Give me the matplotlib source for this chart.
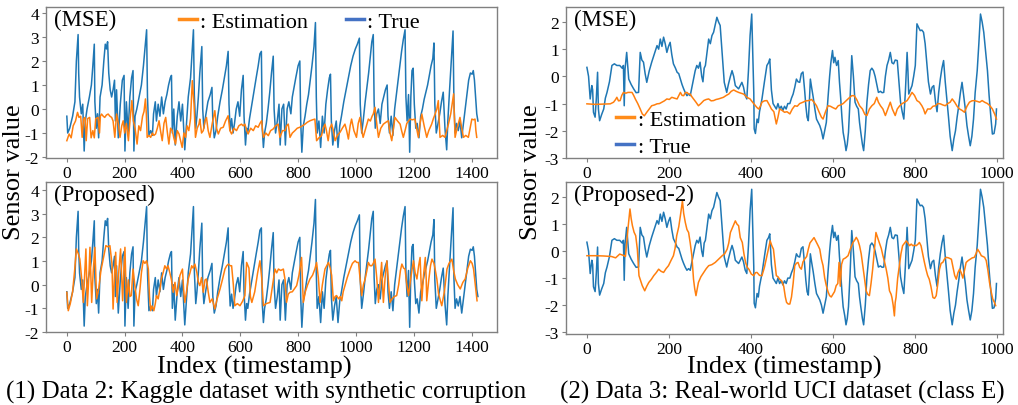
import numpy as np
import matplotlib
matplotlib.use("Agg")
import matplotlib.pyplot as plt
from matplotlib.lines import Line2D

plt.rcParams['font.family'] = ['Liberation Serif', 'DejaVu Serif']
plt.rcParams['axes.unicode_minus'] = False

# (index, value) points
# Data 2 (Kaggle): true signal, shared by both left panels
kaggle_true = [
    (0, -0.3), (3, -1.0), (10, -0.8), (20, -0.3), (28, 0.3), (33, 2.0), (39, 3.1), (41, 1.5), (44, 0.5),
    (50, -0.2), (55, 0.2), (60, -1.75), (64, -0.5), (70, 0.0), (78, 0.5), (85, 1.0), (90, 1.8), (95, 2.7),
    (97, 0.3), (102, -0.8), (106, -0.2), (110, -1.2), (115, 0.5), (122, 1.0), (128, 2.0), (133, 2.7),
    (137, 2.5), (141, 2.8), (145, 1.5), (150, 0.8), (155, 0.5), (160, 0.8), (165, 1.2), (168, -0.5),
    (172, 0.8), (178, -1.2), (185, 0.2), (192, 1.2), (198, 1.4), (201, -1.75), (206, 0.3), (212, -1.0),
    (218, 0.5), (224, 1.3), (229, 1.6), (232, -1.75), (236, -0.3), (242, 0.0), (250, 0.5), (258, 1.0),
    (265, 1.8), (270, 2.5), (276, 3.3), (279, 0.5), (284, -1.1), (290, -0.9), (296, -1.1), (300, -0.2),
    (306, 0.3), (310, -0.5), (316, 0.2), (322, -0.3), (328, 0.5), (334, -0.2), (340, 0.3), (346, 0.6),
    (352, 1.0), (358, 1.3), (362, 1.4), (365, -1.0), (370, 0.0), (375, -1.5), (382, -0.3), (388, 0.3),
    (394, -0.5), (400, 0.2), (408, -1.7), (414, -0.6), (420, 0.5), (428, 1.3), (434, 2.5), (438, 3.3),
    (441, 0.6), (446, -0.8), (450, -0.3), (455, 0.5), (460, 1.5), (467, 2.6), (470, 0.0), (474, -0.8),
    (480, -0.3), (488, 0.3), (496, 0.6), (502, 0.9), (505, -0.5), (510, -1.2), (516, -0.9), (522, -0.3),
    (530, 0.3), (538, 0.8), (545, 1.3), (552, 1.8), (558, 2.4), (561, 0.2), (565, -0.9), (570, -0.4),
    (575, -1.0), (580, -0.6), (586, 0.0), (592, 0.3), (598, -0.3), (604, 0.8), (610, 1.4), (613, -0.3),
    (618, -1.5), (622, -0.8), (626, -1.0), (632, -0.4), (640, 0.2), (648, 0.8), (655, 1.3), (662, 1.8),
    (668, 2.3), (673, 2.4), (676, -0.8), (680, -1.6), (684, -1.0), (690, -0.6), (696, 0.0), (702, 0.7),
    (708, 1.5), (714, 2.2), (717, 0.0), (722, -1.0), (728, -0.5), (734, 0.2), (738, -1.5), (744, 0.0),
    (750, 0.2), (756, -1.5), (762, 0.0), (768, 0.3), (775, -0.2), (780, 0.5), (786, 0.9), (792, 1.3),
    (800, 1.8), (806, 2.0), (809, -0.5), (813, -1.8), (818, -0.7), (824, -0.3), (830, 0.2), (836, 0.6),
    (842, 1.2), (848, 1.8), (855, 2.6), (860, 3.6), (863, 0.5), (866, -1.0), (872, -0.5), (878, -1.6),
    (884, -0.3), (890, -1.0), (896, 0.2), (902, 0.8), (908, 1.3), (912, 1.45), (915, -0.5), (920, -1.5),
    (926, -0.9), (932, -0.5), (938, -1.6), (944, -0.7), (950, -0.3), (958, 0.3), (966, 0.8), (974, 1.3),
    (982, 1.8), (990, 2.2), (998, 2.5), (1005, 2.7), (1012, 2.95), (1015, 0.2), (1020, -1.0), (1026, -0.4),
    (1032, 0.3), (1038, 0.9), (1044, 1.5), (1050, 2.2), (1055, 2.8), (1060, 3.1), (1063, 0.3), (1067, -0.8),
    (1072, -0.2), (1078, 0.0), (1084, -0.6), (1090, 0.2), (1096, 0.5), (1102, 0.8), (1108, 1.0), (1111, -0.3),
    (1116, -1.0), (1122, -0.3), (1128, -1.1), (1134, 0.0), (1140, 0.6), (1146, 1.2), (1152, 1.8), (1158, 2.4),
    (1164, 2.9), (1170, 3.3), (1173, 0.5), (1177, -0.5), (1182, 0.6), (1186, -1.8), (1190, 0.5), (1194, 1.6),
    (1198, 1.7), (1202, 0.2), (1207, -0.8), (1212, -0.6), (1218, -1.2), (1224, -0.3), (1230, 0.0), (1236, 0.4),
    (1242, 0.7), (1248, 1.0), (1254, 1.4), (1260, 1.8), (1266, 2.1), (1270, 2.75), (1273, 0.2), (1278, -1.0),
    (1284, -0.6), (1290, -0.2), (1296, 0.3), (1302, 0.7), (1308, -0.8), (1314, -1.7), (1318, -0.5), (1324, 0.8),
    (1330, 2.0), (1336, 3.25), (1339, 0.3), (1343, -1.0), (1348, -0.6), (1354, -0.9), (1360, -0.5), (1366, -1.2),
    (1372, -0.6), (1378, 0.0), (1384, 0.6), (1390, 1.2), (1396, 1.5), (1402, 1.45), (1406, 1.6), (1410, 1.2),
    (1414, 0.5), (1418, -0.2), (1422, -0.5),
]

# Data 2: estimation trained with MSE
kaggle_mse = [
    (0, -1.32), (8, -1.04), (15, -1.2), (22, -0.7), (30, -0.5), (37, -0.14), (42, -0.35), (48, -0.3),
    (53, -1.18), (58, -0.4), (63, -0.35), (67, -1.32), (72, -0.4), (79, -0.35), (84, -1.2), (90, -0.9),
    (95, -1.2), (100, -0.4), (108, -0.35), (113, -1.0), (116, -0.3), (120, -0.21), (126, -0.3), (131, -0.35),
    (137, -0.25), (143, -0.21), (149, -0.3), (155, -0.35), (160, -0.5), (166, -1.18), (172, -0.21), (178, -0.6),
    (184, -1.18), (190, -0.7), (195, -0.49), (200, -1.0), (206, -0.6), (213, -1.32), (219, -0.4), (225, 0.35),
    (230, -0.49), (236, -0.8), (243, -1.46), (249, -0.7), (255, -0.9), (262, -0.3), (267, -0.1), (272, 0.42),
    (275, -0.2), (278, -1.18), (284, -1.1), (290, -1.18), (296, -1.0), (301, -1.1), (307, -1.04), (313, -0.8),
    (319, -0.49), (324, -0.9), (330, -1.32), (336, -0.6), (342, -0.35), (347, -0.9), (353, -1.46), (359, -0.8),
    (365, -0.9), (370, -1.2), (376, -1.46), (382, -0.9), (388, -1.04), (393, -1.3), (399, -1.6), (405, -1.0),
    (411, -1.18), (416, -0.7), (422, -0.9), (428, -0.4), (434, 1.18), (440, 0.21), (445, -1.18), (451, -0.8),
    (457, -0.63), (460, -0.42), (466, -1.0), (472, -0.9), (478, -0.5), (483, -0.35), (489, -0.9), (495, -1.18),
    (503, -0.6), (512, -0.07), (518, -0.8), (524, -1.04), (532, -0.8), (541, -0.76), (549, -0.5), (558, -0.28),
    (564, -0.9), (570, -1.04), (578, -0.8), (587, -0.9), (595, -0.7), (604, -0.63), (610, -0.7), (616, -0.63),
    (622, -0.9), (627, -1.04), (636, -0.8), (645, -0.9), (653, -0.7), (662, -0.76), (668, -0.6), (674, -0.49),
    (677, -0.9), (680, -1.18), (688, -1.0), (697, -1.11), (705, -0.9), (714, -0.83), (722, -0.7), (731, -0.63),
    (734, -0.9), (737, -1.18), (746, -0.9), (755, -0.9), (760, -0.7), (766, -0.63), (769, -0.9), (772, -1.18),
    (780, -1.0), (789, -0.9), (797, -0.8), (806, -0.76), (815, -0.7), (824, -0.63), (832, -0.55), (841, -0.49),
    (850, -0.45), (858, -0.42), (861, -0.9), (864, -1.32), (872, -1.2), (881, -1.11), (887, -0.8), (893, -0.63),
    (898, -0.9), (904, -1.32), (910, -0.8), (916, -0.63), (922, -0.9), (928, -1.32), (936, -1.1), (945, -0.97),
    (953, -0.8), (962, -0.63), (968, -0.9), (974, -1.25), (980, -0.7), (985, -0.42), (993, -0.9), (1002, -1.18),
    (1008, -0.6), (1014, -0.35), (1020, -0.9), (1025, -1.18), (1034, -0.8), (1043, -0.42), (1050, -0.5),
    (1056, -0.3), (1060, -0.21), (1066, 0.07), (1072, -0.6), (1078, -1.18), (1086, -0.8), (1095, -0.63),
    (1104, -0.55), (1112, -0.49), (1118, -1.0), (1124, -1.32), (1130, -0.8), (1135, -0.35), (1144, -0.5),
    (1153, -0.63), (1158, -0.9), (1164, -1.18), (1170, -0.9), (1176, -0.6), (1187, -0.42), (1195, -0.45),
    (1204, -0.42), (1210, -0.8), (1216, -1.18), (1222, -0.6), (1228, -0.21), (1236, -0.7), (1245, -1.18),
    (1252, -0.9), (1262, -0.63), (1268, -0.4), (1274, -0.21), (1280, 0.0), (1285, 0.35), (1288, -0.5),
    (1291, -1.18), (1300, -1.1), (1308, -1.18), (1314, -0.9), (1320, -0.63), (1328, -0.2), (1338, 0.63),
    (1341, -0.4), (1343, -1.18), (1350, -0.8), (1360, -0.35), (1366, -0.8), (1372, -1.18), (1380, -1.1),
    (1389, -1.18), (1395, -0.8), (1401, -0.42), (1407, -0.45), (1412, -0.42), (1415, -0.9), (1418, -1.18),
]

# Data 2: estimation of the proposed method
kaggle_prop = [
    (0, -0.32), (5, -1.1), (12, -0.8), (20, -0.3), (27, 0.6), (33, 1.51), (40, 1.3), (45, 1.08), (51, 0.3),
    (57, -0.75), (62, 0.5), (66, 1.51), (71, -0.89), (76, 0.3), (80, 1.58), (86, -0.75), (91, 0.5), (97, 1.58),
    (103, -0.6), (110, -0.2), (118, 0.6), (126, 1.08), (131, 1.4), (135, 1.65), (142, 1.6), (149, 1.65),
    (156, 0.9), (160, -1.03), (165, 0.4), (169, 1.37), (174, -0.75), (180, 0.6), (186, 1.51), (193, -0.68),
    (198, 0.8), (201, 1.58), (206, -0.75), (213, 0.2), (218, -0.5), (223, -0.46), (229, 0.66), (235, 0.0),
    (241, -0.6), (247, -0.89), (253, -0.2), (258, 0.5), (264, 1.01), (270, 0.9), (276, 1.01), (282, 0.66),
    (286, -0.5), (290, -1.1), (295, -0.9), (301, -1.1), (306, -0.8), (310, -0.46), (316, -0.6), (322, -0.2),
    (327, 0.24), (333, 0.5), (339, 0.8), (345, 0.66), (350, 0.8), (356, 0.52), (362, 0.2), (368, -0.32),
    (374, 0.1), (380, -0.46), (386, -0.1), (391, 0.38), (400, 0.66), (404, -0.2), (408, -0.75), (414, -0.3),
    (420, 0.24), (426, 0.5), (432, 0.8), (437, 0.7), (443, 0.87), (450, 0.5), (455, 0.1), (460, -0.04),
    (466, 0.3), (472, -0.32), (478, 0.2), (483, 0.24), (489, -0.3), (495, -0.75), (503, -0.6), (512, -1.03),
    (520, -0.6), (530, -0.18), (538, 0.2), (547, 0.66), (553, 0.8), (559, 0.87), (565, 0.8), (570, 0.8),
    (576, 0.0), (581, -0.89), (590, -0.8), (599, -0.89), (608, -0.7), (616, -0.46), (622, 0.94), (630, 0.7),
    (635, -0.5), (640, -0.75), (650, -0.3), (660, 0.5), (668, 1.01), (674, 0.3), (680, -0.89), (690, -0.8),
    (703, -0.75), (712, 0.0), (720, 0.66), (726, 0.5), (732, 0.66), (740, 0.6), (749, 0.66), (755, 0.2),
    (760, -0.75), (766, -0.4), (772, -0.32), (780, -0.3), (787, -0.18), (795, -0.04), (803, 0.4), (812, 1.15),
    (815, 0.2), (818, -0.75), (825, -0.3), (833, 0.0), (841, 0.24), (850, 0.4), (858, 0.66), (864, 0.94),
    (870, 0.3), (876, -0.75), (884, 0.0), (893, 0.66), (899, 0.8), (905, 0.94), (911, 0.7), (916, 0.4),
    (922, -0.68), (928, -0.5), (933, -0.46), (940, -0.6), (946, -0.5), (951, -0.68), (956, -0.3), (962, -0.04),
    (970, 0.3), (980, 0.66), (988, 0.9), (997, 1.01), (1003, 0.94), (1009, 0.94), (1014, 0.3), (1020, -0.46),
    (1026, 0.0), (1032, 0.24), (1038, 0.6), (1043, 0.94), (1049, 0.8), (1055, 0.8), (1060, 0.9), (1066, 1.08),
    (1072, 0.3), (1078, -0.75), (1084, 0.2), (1089, 0.94), (1092, 0.0), (1095, -0.75), (1101, 0.3), (1107, 1.01),
    (1112, 0.2), (1118, -0.75), (1125, -0.6), (1133, -0.5), (1141, -0.46), (1148, 0.0), (1154, 0.6),
    (1159, 0.87), (1165, 0.7), (1170, 0.66), (1176, 0.0), (1182, -0.46), (1190, 0.3), (1199, 1.01), (1205, 0.5),
    (1211, 0.24), (1217, 0.8), (1222, 1.15), (1225, 0.2), (1228, -0.68), (1234, 0.4), (1240, 1.15), (1243, 0.3),
    (1245, -0.68), (1252, 0.2), (1258, 0.8), (1263, 1.08), (1270, 0.9), (1274, 0.66), (1280, 0.24),
    (1286, -0.4), (1297, -0.89), (1306, -0.3), (1315, 0.66), (1322, 0.9), (1332, 1.08), (1338, 0.6),
    (1344, 0.24), (1352, 0.0), (1361, -0.18), (1370, 0.1), (1378, 0.24), (1387, 0.7), (1396, 1.01),
    (1402, 0.9), (1407, 0.66), (1413, 0.0), (1419, -0.68),
]

# Data 3 (UCI, class E): true signal, shared by both right panels
uci_true = [
    (0, 0.33), (4, 0.0), (8, -0.83), (12, -0.34), (14, -0.5), (16, -1.32), (20, -1.5), (23, -0.8), (26, 0.15),
    (28, -1.2), (31, -1.63), (36, -1.4), (41, -1.2), (45, -0.8), (49, -0.59), (55, -0.2), (61, 0.4), (67, 0.46),
    (73, 0.4), (80, 0.4), (86, 0.3), (89, 0.4), (91, -1.08), (93, 0.27), (97, 0.88), (102, -0.1), (108, -0.3),
    (114, -0.46), (120, -0.6), (126, -0.59), (130, 0.88), (134, 0.6), (138, 0.52), (142, 0.1), (146, -0.22),
    (152, 0.2), (158, 0.52), (164, 0.8), (171, 1.13), (175, 1.0), (179, 1.37), (183, 1.1), (187, 1.44),
    (191, 1.2), (195, 0.88), (199, 1.1), (203, 1.25), (207, 0.8), (211, 0.46), (216, 0.3), (220, 0.15),
    (224, 0.1), (228, -0.1), (232, -0.3), (236, -0.46), (240, -0.6), (244, -0.71), (248, -0.65), (252, -0.71),
    (256, -0.4), (260, -0.1), (264, 0.2), (268, 0.4), (272, 0.3), (276, 0.52), (280, 0.0), (283, -0.2),
    (286, 0.3), (289, 0.4), (293, 0.9), (297, 1.37), (301, 1.2), (305, 1.5), (309, 1.62), (313, 1.9),
    (317, 2.17), (321, 2.0), (325, 1.87), (329, 1.0), (332, 0.4), (335, -0.22), (338, -0.4), (341, -0.59),
    (345, -0.3), (350, 0.0), (354, 0.21), (358, 0.0), (362, -0.34), (366, -0.4), (370, -0.46), (374, -0.34),
    (378, -0.22), (382, -0.4), (386, -0.7), (390, -0.83), (394, 0.2), (398, 1.5), (402, 2.29), (405, 0.5),
    (407, -0.59), (408, -1.93), (411, -2.1), (415, -1.57), (418, -1.7), (421, -1.3), (427, -0.83), (433, -0.2),
    (439, 0.4), (443, 0.5), (446, 0.64), (448, 0.1), (450, -0.5), (454, -1.0), (458, -1.1), (462, -1.2),
    (466, -1.0), (470, -1.2), (474, -1.1), (478, -1.25), (482, -1.1), (486, -1.2), (490, -1.0), (495, -1.0),
    (499, -0.8), (503, -0.65), (507, -0.4), (511, -0.1), (515, -0.2), (519, -0.22), (523, 0.1), (527, 0.16),
    (531, -0.5), (534, -1.08), (537, -1.5), (540, -1.63), (543, -0.8), (545, -0.1), (548, -0.4), (552, -0.77),
    (556, -1.2), (560, -1.57), (564, -1.69), (568, -1.81), (572, -2.0), (576, -2.3), (580, -2.0), (584, -1.69),
    (588, -0.8), (592, 0.0), (595, 0.5), (599, 0.95), (602, 0.5), (605, 0.7), (609, 0.4), (613, 0.58),
    (616, -0.2), (619, -0.8), (622, -1.5), (625, -2.06), (629, -2.4), (632, -2.73), (635, -2.5), (638, -2.06),
    (642, -0.8), (646, 0.76), (650, 0.0), (654, -0.95), (658, -1.1), (662, -1.2), (665, -1.7), (668, -2.06),
    (672, -2.5), (675, -2.73), (679, -2.0), (683, -0.95), (687, -0.3), (691, 0.21), (695, 0.3), (699, 0.21),
    (703, 0.0), (706, -0.22), (711, -0.59), (716, -0.55), (720, -0.6), (724, -0.59), (728, 0.0), (732, 0.4),
    (736, 0.6), (740, 0.88), (744, 0.5), (748, 0.46), (752, 0.6), (757, 0.58), (761, -0.2), (765, -0.95),
    (769, -1.3), (773, -1.57), (777, -0.5), (781, 0.88), (783, 0.2), (785, -0.65), (789, -0.5), (793, -0.34),
    (797, 0.0), (801, 0.4), (803, 1.2), (805, 1.93), (809, 1.8), (813, 1.68), (817, 1.7), (821, 1.62),
    (825, 1.2), (829, 0.52), (833, -0.2), (838, -0.65), (842, -0.4), (846, -0.34), (850, -0.9), (854, -1.3),
    (858, -0.6), (862, -0.1), (866, 0.3), (870, 0.58), (874, -0.2), (878, -0.83), (882, -1.5), (886, -2.2),
    (891, -2.73), (895, -2.3), (899, -2.0), (903, -1.5), (907, -1.08), (911, -0.6), (915, -0.22), (919, -0.71),
    (923, -1.2), (927, -1.81), (931, -2.2), (935, -2.55), (939, -2.2), (943, -1.57), (947, -0.6), (952, 0.21),
    (956, 1.2), (960, 2.29), (964, 2.0), (968, 1.62), (972, 1.0), (977, 0.21), (981, -0.7), (985, -1.44),
    (989, -2.12), (993, -2.1), (997, -1.75), (999, -1.2),
]

# Data 3: estimation trained with MSE
uci_mse = [
    (0, -1.01), (20, -1.03), (40, -1.02), (57, -1.01), (65, -0.95), (70, -0.85), (73, -0.77), (77, -0.9),
    (81, -0.89), (85, -0.7), (89, -0.59), (95, -0.62), (100, -0.59), (110, -0.59), (114, -0.7), (118, -0.83),
    (124, -1.0), (130, -1.2), (135, -1.38), (140, -1.45), (146, -1.32), (152, -1.2), (158, -1.08), (165, -1.05),
    (171, -1.01), (177, -1.0), (183, -0.95), (189, -0.9), (195, -0.83), (201, -0.85), (207, -0.77), (213, -0.8),
    (220, -0.83), (228, -0.59), (232, -0.7), (236, -0.71), (240, -0.6), (244, -0.59), (248, -0.65), (252, -0.65),
    (256, -0.75), (260, -0.83), (266, -0.95), (272, -1.08), (278, -1.0), (285, -0.89), (291, -0.85), (297, -0.83),
    (303, -0.9), (309, -0.89), (315, -0.85), (321, -0.83), (327, -0.8), (333, -0.77), (340, -0.7), (346, -0.65),
    (352, -0.55), (358, -0.5), (364, -0.55), (370, -0.59), (376, -0.62), (382, -0.65), (386, -0.7), (390, -0.77),
    (394, -0.8), (398, -0.83), (404, -0.95), (411, -1.08), (415, -1.15), (419, -1.2), (423, -1.1), (427, -0.95),
    (433, -0.9), (439, -0.89), (446, -1.08), (450, -1.2), (456, -1.3), (462, -1.75), (466, -1.5), (470, -1.2),
    (476, -1.25), (482, -1.32), (488, -1.3), (495, -1.38), (501, -1.2), (507, -1.08), (513, -1.1), (519, -1.0),
    (527, -0.95), (534, -0.9), (541, -0.89), (548, -0.85), (554, -0.95), (560, -1.08), (566, -1.3), (572, -1.5),
    (576, -1.57), (582, -1.3), (588, -1.08), (594, -1.1), (600, -1.15), (607, -1.2), (613, -1.08), (619, -1.05),
    (625, -1.0), (632, -0.9), (639, -0.8), (646, -0.71), (652, -0.71), (658, -0.85), (665, -1.08), (672, -1.2),
    (678, -1.4), (683, -1.44), (689, -1.2), (695, -1.08), (701, -1.0), (707, -0.77), (711, -0.95), (716, -1.08),
    (722, -1.2), (728, -1.44), (734, -1.2), (740, -0.95), (745, -1.2), (752, -1.44), (757, -1.2), (763, -1.08),
    (769, -1.0), (775, -0.95), (781, -0.89), (787, -0.75), (793, -0.59), (799, -0.7), (805, -0.89), (811, -0.95),
    (817, -1.08), (821, -1.2), (825, -1.38), (831, -1.2), (838, -1.2), (844, -1.1), (850, -1.08), (856, -1.0),
    (862, -1.01), (868, -1.05), (874, -1.08), (880, -1.0), (886, -0.95), (891, -0.83), (897, -0.95), (903, -1.1),
    (909, -1.2), (915, -1.25), (921, -1.32), (927, -1.1), (933, -0.95), (939, -0.9), (945, -0.89), (952, -0.92),
    (958, -0.95), (964, -0.89), (970, -0.95), (977, -1.0), (983, -1.08), (989, -1.2), (995, -1.4), (999, -1.57),
]

# Data 3: estimation of the proposed method (Proposed-2)
uci_prop = [
    (0, -0.17), (20, -0.17), (40, -0.18), (60, -0.2), (70, -0.25), (80, -0.11), (91, -0.17), (94, -0.2),
    (97, 0.3), (100, 0.81), (105, 1.56), (108, 1.2), (111, 0.94), (115, 0.7), (119, 0.57), (123, 0.07),
    (127, -0.91), (131, -1.1), (135, -1.28), (141, -1.47), (146, -1.3), (151, -1.16), (157, -1.05), (163, -0.91),
    (169, -0.8), (175, -0.67), (181, -0.75), (187, -0.79), (193, -0.65), (199, -0.54), (205, -0.35), (211, -0.17),
    (215, 0.1), (219, 0.57), (224, 0.9), (228, 1.31), (233, 1.86), (236, 1.4), (240, 1.06), (244, 0.8),
    (248, 0.69), (252, 0.3), (256, -0.17), (260, -1.04), (263, -1.4), (266, -1.65), (269, -1.4), (272, -1.16),
    (278, -0.95), (285, -0.79), (291, -0.65), (297, -0.54), (305, -0.5), (313, -0.42), (321, -0.3), (330, -0.17),
    (336, -0.1), (342, 0.07), (346, 0.3), (350, 0.69), (356, 0.9), (362, 1.12), (366, 1.0), (370, 0.94),
    (374, 0.5), (379, 0.32), (383, -0.1), (387, -0.42), (391, -0.6), (395, -0.67), (401, -0.85), (407, -0.91),
    (411, -0.8), (415, -0.79), (421, -0.9), (427, -0.91), (433, -0.6), (439, -0.17), (443, 0.1), (447, 0.38),
    (451, 0.2), (455, 0.07), (459, -0.5), (462, -0.91), (466, -0.95), (470, -1.04), (475, -1.1), (480, -1.3),
    (484, -1.7), (487, -1.9), (491, -1.96), (495, -1.96), (499, -1.7), (503, -1.2), (507, -0.54), (511, -0.45),
    (515, -0.42), (519, -0.6), (523, -0.67), (527, -0.4), (531, -0.3), (536, -0.2), (540, 0.07), (544, 0.3),
    (548, 0.38), (554, 0.5), (560, 0.32), (564, 0.2), (568, 0.07), (572, -0.3), (576, -0.54), (580, -1.0),
    (584, -1.28), (588, -1.5), (592, -1.65), (596, -1.7), (600, -1.6), (604, -1.5), (608, -1.28), (612, -1.2),
    (615, -0.42), (618, -1.3), (621, -0.5), (625, -0.3), (631, -0.25), (637, -0.17), (643, 0.1), (649, 0.32),
    (653, 0.4), (657, 0.51), (661, 0.4), (665, 0.2), (669, -0.1), (673, -0.54), (677, -1.0), (681, -1.47),
    (685, -1.6), (689, -1.65), (693, -1.2), (697, -0.67), (701, 0.0), (705, 0.69), (709, 0.5), (713, 0.32),
    (718, 0.1), (722, -0.17), (726, -0.4), (730, -0.67), (734, -1.0), (738, -1.47), (742, -1.6), (744, -1.72),
    (747, -2.0), (750, -2.4), (752, -1.9), (754, -1.72), (758, -1.0), (762, -0.54), (766, -0.1), (770, 0.2),
    (775, 0.3), (779, 0.38), (783, 0.3), (787, 0.2), (791, 0.26), (795, 0.2), (799, 0.22), (803, 0.2),
    (807, 0.25), (811, 0.32), (815, 0.2), (819, -0.1), (823, -0.4), (827, -0.67), (831, -0.9), (835, -1.04),
    (839, -1.3), (844, -1.72), (848, -1.75), (852, -1.65), (856, -1.2), (860, -0.67), (864, -0.45), (868, -0.42),
    (872, -0.3), (876, -0.23), (882, -0.25), (889, -0.3), (893, -0.6), (897, -0.9), (901, -1.04), (905, -0.8),
    (909, -0.67), (913, -0.8), (917, -1.0), (921, -0.7), (925, -0.42), (930, -0.35), (935, -0.3), (940, -0.25),
    (945, -0.23), (949, -0.1), (953, 0.07), (958, -0.05), (962, -0.17), (966, -0.2), (970, -0.23), (974, -0.35),
    (978, -0.7), (982, -1.16), (986, -1.5), (990, -1.78), (994, -1.9), (997, -2.02),
]

kaggle_xticks = [0, 200, 400, 600, 800, 1000, 1200, 1400]
kaggle_yticks = [-2, -1, 0, 1, 2, 3, 4]
uci_xticks = [0, 200, 400, 600, 800, 1000]
uci_yticks = [-3, -2, -1, 0, 1, 2]

TRUE_COLOR = '#1f77b4'
EST_COLOR = '#ff7f0e'
TICK_SIZE = 12.5


def split(points):
    arr = np.asarray(points, dtype=float)
    return arr[:, 0], arr[:, 1]


def draw_panel(ax, truth, estimate, xticks, yticks, xlim, ylim, tag):
    ax.plot(*split(truth), color=TRUE_COLOR, lw=1.1)
    ax.plot(*split(estimate), color=EST_COLOR, lw=1.1)
    ax.set_xlim(*xlim)
    ax.set_ylim(*ylim)
    ax.set_xticks(xticks)
    ax.set_yticks(yticks)
    ax.tick_params(labelsize=TICK_SIZE, length=3, width=0.8, color='#808080', pad=2)
    for spine in ax.spines.values():
        spine.set_color('#808080')
        spine.set_linewidth(1.0)
    ax.text(0.018, 0.985, tag, transform=ax.transAxes, ha='left', va='top', fontsize=16.5)


fig = plt.figure(figsize=(10.18, 4.06), dpi=100)

ax_k_top = fig.add_axes([0.0452, 0.6084, 0.443, 0.372])
ax_k_bot = fig.add_axes([0.0452, 0.1798, 0.443, 0.3695])
ax_u_top = fig.add_axes([0.556, 0.6084, 0.4293, 0.372])
ax_u_bot = fig.add_axes([0.556, 0.1749, 0.4293, 0.3744])

draw_panel(ax_k_top, kaggle_true, kaggle_mse, kaggle_xticks, kaggle_yticks, (-72, 1488), (-2.04, 4.25), '(MSE)')
draw_panel(ax_k_bot, kaggle_true, kaggle_prop, kaggle_xticks, kaggle_yticks, (-72, 1488), (-2.0, 4.34), '(Proposed)')
draw_panel(ax_u_top, uci_true, uci_mse, uci_xticks, uci_yticks, (-51, 1015), (-3.0, 2.55), '(MSE)')
draw_panel(ax_u_bot, uci_true, uci_prop, uci_xticks, uci_yticks, (-51, 1015), (-3.07, 2.56), '(Proposed-2)')

# legend handles (the "True" swatch is a lighter royal blue in the original)
legend_handles = [
    Line2D([], [], color='#ff8c1a', lw=2.5, label=': Estimation'),
    Line2D([], [], color='#4472c4', lw=2.5, label=': True'),
]
ax_k_top.legend(handles=legend_handles, ncol=2, loc='upper left', bbox_to_anchor=(0.265, 1.06),
                frameon=False, fontsize=16, handlelength=0.8, handletextpad=0.15, columnspacing=1.7,
                borderpad=0.1)
ax_u_top.legend(handles=legend_handles, ncol=1, loc='upper left', bbox_to_anchor=(0.085, 0.41),
                frameon=False, fontsize=16, handlelength=0.8, handletextpad=0.15, labelspacing=0.3,
                borderpad=0.1)

fig.text(0.0135, 0.575, 'Sensor value', rotation=90, ha='center', va='center', fontsize=19)
fig.text(0.5215, 0.575, 'Sensor value', rotation=90, ha='center', va='center', fontsize=19)
fig.text(0.25, 0.095, 'Index (timestamp)', ha='center', va='center', fontsize=19)
fig.text(0.77, 0.095, 'Index (timestamp)', ha='center', va='center', fontsize=19)
fig.text(0.261, 0.033, '(1) Data 2: Kaggle dataset with synthetic corruption', ha='center', va='center', fontsize=18)
fig.text(0.768, 0.033, '(2) Data 3: Real-world UCI dataset (class E)', ha='center', va='center', fontsize=18)

fig.savefig('out.png', dpi=100)
